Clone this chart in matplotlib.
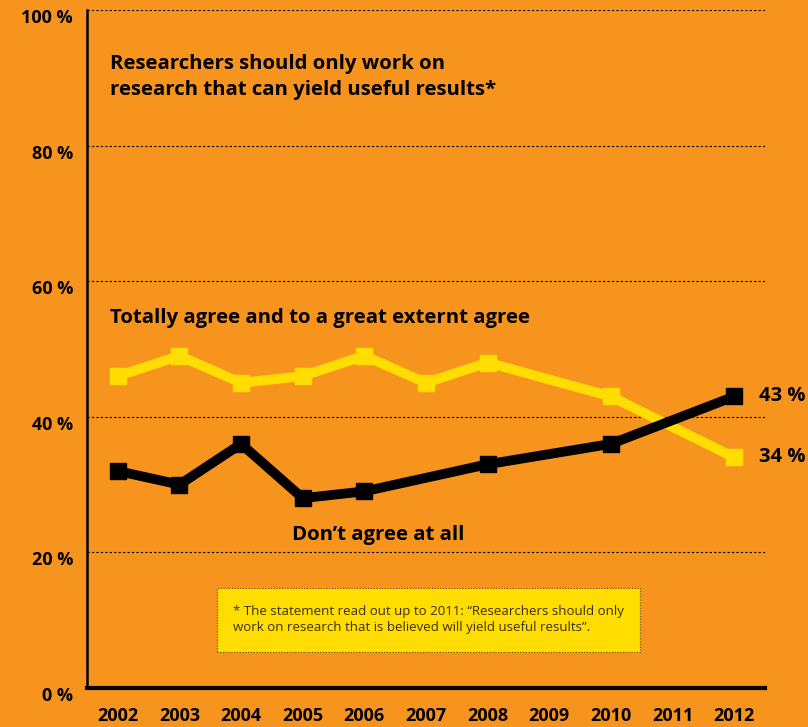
import matplotlib.pyplot as plt
import matplotlib.transforms as mtransforms

years = list(range(2002, 2013))
yellow_years = [2002, 2003, 2004, 2005, 2006, 2007, 2008, 2010, 2012]
yellow_vals = [46, 49, 45, 46, 49, 45, 48, 43, 34]
black_years = [2002, 2003, 2004, 2005, 2006, 2008, 2010, 2012]
black_vals = [32, 30, 36, 28, 29, 33, 36, 43]
y_ticks = [0, 20, 40, 60, 80, 100]

orange = '#F7941D'
yellow = '#FFDD00'
font = ['Open Sans', 'DejaVu Sans']

fig = plt.figure(figsize=(8.08, 7.27), dpi=100, facecolor=orange)
ax = fig.add_axes([87/808, 39/727, (765-87)/808, (688-10)/727])
ax.set_facecolor(orange)
ax.set_xlim(2001.5, 2012.5)
ax.set_ylim(0, 100)

for yv in y_ticks[1:]:
    ax.axhline(yv, color='black', lw=0.8, ls=(0, (2, 2)), zorder=1)

ax.plot(yellow_years, yellow_vals, color=yellow, lw=7, marker='s', ms=11.5,
        solid_joinstyle='miter', zorder=3)
ax.plot(black_years, black_vals, color='black', lw=7, marker='s', ms=11.5,
        solid_joinstyle='miter', zorder=4)

for s in ['top', 'right']:
    ax.spines[s].set_visible(False)
ax.spines['left'].set_linewidth(1.8)
ax.spines['bottom'].set_linewidth(3)
ax.spines['left'].set_zorder(5)

ax.set_xticks(years)
ax.set_xticklabels([str(y) for y in years], family=font, fontweight='bold', fontsize=13)
ax.set_yticks(y_ticks)
ax.set_yticklabels([f'{v} %' for v in y_ticks], family=font, fontweight='bold', fontsize=13)
ax.tick_params(axis='both', length=0)
ax.tick_params(axis='x', pad=14)
ax.tick_params(axis='y', pad=10)
shift = mtransforms.ScaledTranslation(0, -6/100, fig.dpi_scale_trans)
for lbl in ax.get_yticklabels():
    lbl.set_transform(lbl.get_transform() + shift)

ax.text(110/808, 1 - 77/727, 'Researchers should only work on\nresearch that can yield useful results*',
        transform=fig.transFigure, family=font, fontweight='bold', fontsize=14.7,
        va='center', ha='left', linespacing=1.45)
ax.text(110/808, 1 - 318/727, 'Totally agree and to a great externt agree',
        transform=fig.transFigure, family=font, fontweight='bold', fontsize=14.7,
        va='center', ha='left')
ax.text(292/808, 1 - 535/727, 'Don\u2019t agree at all',
        transform=fig.transFigure, family=font, fontweight='bold', fontsize=14.7,
        va='center', ha='left')
ax.text(2012.4, yellow_vals[-1], '34 %', family=font, fontweight='bold', fontsize=14.5,
        va='center', ha='left', clip_on=False)
ax.text(2012.4, black_vals[-1], '43 %', family=font, fontweight='bold', fontsize=14.5,
        va='center', ha='left', clip_on=False)

fig.text(233/808, 1 - 620/727,
         '* The statement read out up to 2011: \u201cResearchers should only\n'
         'work on research that is believed will yield useful results\u201d.',
         family=font, fontsize=9.5, color='#3a3000', va='center', ha='left',
         linespacing=1.3)
box = plt.Rectangle((217/808, 1 - 652/727), (640-217)/808, (652-588)/727,
                    transform=fig.transFigure, fc=yellow, ec='#5a4a00',
                    lw=0.8, ls=(0, (1, 1.5)), zorder=0)
fig.patches.append(box)

fig.savefig('out.png', dpi=100, facecolor=orange)
